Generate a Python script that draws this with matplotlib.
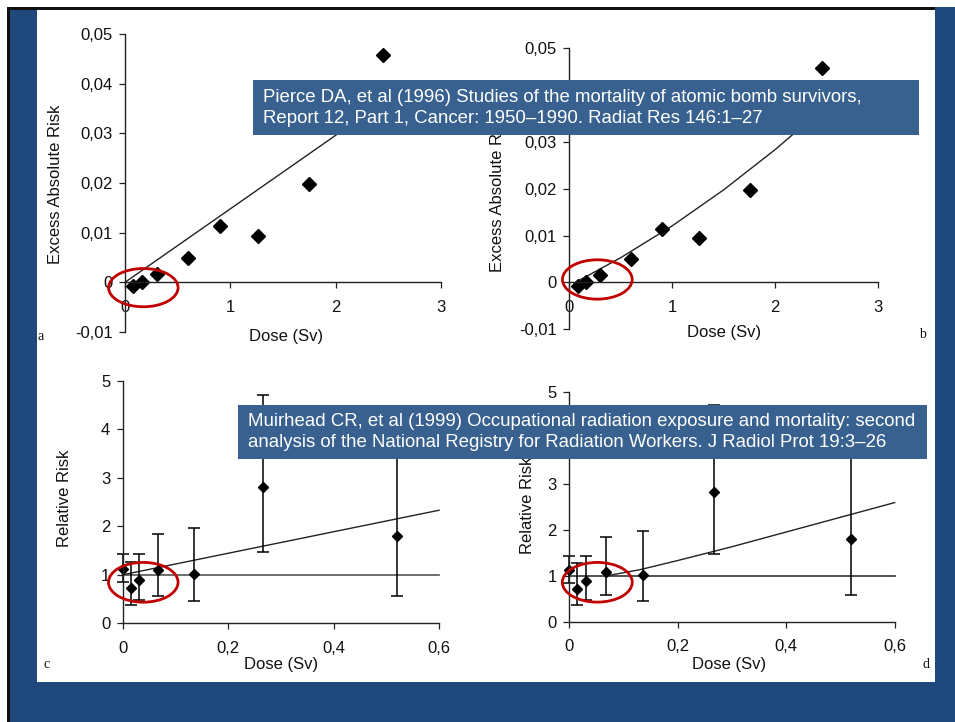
# Dose-response slide: atomic bomb survivors (a, b) and radiation workers (c, d)
import numpy as np
import matplotlib
matplotlib.use("Agg")
import matplotlib.pyplot as plt
from matplotlib.patches import Rectangle, Ellipse

plt.rcParams['font.family'] = ['Liberation Sans', 'DejaVu Sans']

W, H = 955, 722

# --- data ---
# panels a / b : excess absolute risk vs dose
lss_dose = [0.08, 0.16, 0.30, 0.60, 0.90, 1.26, 1.75, 2.45]
lss_ear = [-0.0007, 0.0000, 0.0016, 0.0050, 0.0114, 0.0094, 0.0198, 0.0457]
fit_a_dose = [0.0, 2.5]
fit_a_ear = [0.0, 0.037]
fit_b_dose = [0.05, 0.5, 1.0, 1.5, 2.0, 2.5]
fit_b_ear = [-0.0001, 0.0053, 0.0121, 0.0198, 0.0284, 0.0378]
ear_ticks = [-0.01, 0, 0.01, 0.02, 0.03, 0.04, 0.05]
ear_labels = ['-0,01', '0', '0,01', '0,02', '0,03', '0,04', '0,05']
sv_ticks = [0, 1, 2, 3]

# panels c / d : relative risk vs dose
nrrw_dose = [0.0, 0.015, 0.03, 0.067, 0.135, 0.266, 0.52]
nrrw_rr = [1.12, 0.72, 0.89, 1.09, 1.02, 2.81, 1.79]
nrrw_lo = [0.85, 0.37, 0.48, 0.57, 0.45, 1.47, 0.57]
nrrw_hi = [1.42, 1.27, 1.43, 1.85, 1.97, 4.71, 4.40]
fit_c_dose = [0.0, 0.6]
fit_c_rr = [1.0, 2.33]
fit_d_dose = [0.07, 0.13, 0.2, 0.3, 0.4, 0.5, 0.6]
fit_d_rr = [1.0, 1.13, 1.33, 1.63, 1.95, 2.27, 2.59]
rr_ticks = [0, 1, 2, 3, 4, 5]
dose_ticks = [0, 0.2, 0.4, 0.6]
dose_labels = ['0', '0,2', '0,4', '0,6']

ref1 = ("Pierce DA, et al (1996) Studies of the mortality of atomic bomb survivors,\n"
        "Report 12, Part 1, Cancer: 1950\u20131990. Radiat Res 146:1\u201327")
ref2 = ("Muirhead CR, et al (1999) Occupational radiation exposure and mortality: second\n"
        "analysis of the National Registry for Radiation Workers. J Radiol Prot 19:3\u201326")

navy = '#1f497d'
boxblue = '#386190'
red = '#c00000'

fig = plt.figure(figsize=(W / 100, H / 100), dpi=100)
fig.patch.set_facecolor('white')


def fx(x):
    return x / W


def fy(y):
    return 1 - y / H


def rect(x0, y0, x1, y1, color, z=0):
    fig.patches.append(Rectangle((fx(x0), fy(y1)), (x1 - x0) / W, (y1 - y0) / H,
                                 transform=fig.transFigure, facecolor=color,
                                 edgecolor='none', zorder=z))


def ftext(x, y, s, **kw):
    fig.text(fx(x), fy(y), s, **kw)


def make_axes(x0, x1, ytop, ybot):
    ax = fig.add_axes([fx(x0), fy(ybot), (x1 - x0) / W, (ybot - ytop) / H])
    ax.set_facecolor('none')
    for s in ['top', 'right']:
        ax.spines[s].set_visible(False)
    for s in ['left', 'bottom']:
        ax.spines[s].set_color('#222222')
        ax.spines[s].set_linewidth(1.0)
    ax.tick_params(direction='out', length=4, width=0.9, color='#222222',
                   labelsize=12, labelcolor='#111111')
    ax.tick_params(axis='y', pad=5)
    return ax


# slide frame
rect(9, 7, 37, 722, navy)
rect(9, 682, 955, 722, navy)
rect(935, 7, 955, 722, navy)
rect(7, 7, 10, 722, '#111111')
rect(7, 7, 935, 9.5, '#111111')


def lss_panel(ax, fit_dose, fit_ear, ell):
    ax.set_xlim(0, 3)
    ax.set_ylim(-0.01, 0.05)
    ax.spines['bottom'].set_position(('data', 0))
    ax.spines['bottom'].set_bounds(0, 3)
    ax.set_xticks(sv_ticks)
    ax.set_xticklabels([str(t) for t in sv_ticks])
    ax.tick_params(axis='x', pad=8.5)
    ax.set_yticks(ear_ticks)
    ax.set_yticklabels(ear_labels)
    ax.plot(fit_dose, fit_ear, color='#222222', lw=1.0, clip_on=False)
    ax.plot(lss_dose, lss_ear, 'D', color='black', ms=7.2, clip_on=False)
    ax.add_patch(Ellipse(ell[:2], ell[2], ell[3], fill=False, edgecolor=red,
                         lw=2, clip_on=False, zorder=5))


def nrrw_panel(ax, fit_dose, fit_rr, ell, refcolor):
    ax.set_xlim(0, 0.6)
    ax.set_ylim(0, 5)
    ax.set_xticks(dose_ticks)
    ax.set_xticklabels(dose_labels)
    ax.tick_params(axis='x', pad=8.5)
    ax.set_yticks(rr_ticks)
    ax.plot([0, 0.6], [1, 1], color=refcolor, lw=1.2, clip_on=False)
    ax.plot(fit_dose, fit_rr, color='#222222', lw=1.0, clip_on=False)
    rr = np.array(nrrw_rr)
    yerr = [rr - np.array(nrrw_lo), np.array(nrrw_hi) - rr]
    ax.errorbar(nrrw_dose, nrrw_rr, yerr=yerr, fmt='D', color='black', ms=5.5,
                elinewidth=1.1, capsize=4.3, capthick=1.1, clip_on=False)
    ax.add_patch(Ellipse(ell[:2], ell[2], ell[3], fill=False, edgecolor=red,
                         lw=2, clip_on=False, zorder=5))


ax_a = make_axes(125, 441, 34, 332)
lss_panel(ax_a, fit_a_dose, fit_a_ear, (0.174, -0.00107, 0.66, 0.0077))
ax_b = make_axes(569.3, 878.3, 48.3, 329.3)
lss_panel(ax_b, fit_b_dose, fit_b_ear, (0.272, 0.00064, 0.677, 0.0084))
ax_c = make_axes(122.7, 439, 380.7, 623.3)
nrrw_panel(ax_c, fit_c_dose, fit_c_rr, (0.039, 0.845, 0.132, 0.82), '#555555')
ax_d = make_axes(569.3, 894.7, 391.7, 621.7)
nrrw_panel(ax_d, fit_d_dose, fit_d_rr, (0.0516, 0.857, 0.129, 0.863), '#333333')

# axis titles
lab = dict(fontsize=12, color='#111111', ha='center', va='center')
ftext(55, 184, 'Excess Absolute Risk', rotation=90, **lab)
ftext(498, 192, 'Excess Absolute Risk', rotation=90, **lab)
ftext(286, 337, 'Dose (Sv)', **lab)
ftext(724, 333, 'Dose (Sv)', **lab)
ftext(64, 498, 'Relative Risk', rotation=90, **lab)
ftext(528, 505, 'Relative Risk', rotation=90, **lab)
ftext(281, 664, 'Dose (Sv)', **lab)
ftext(729, 665, 'Dose (Sv)', **lab)

# panel letters
pl = dict(fontsize=10, family='Liberation Serif', color='#111111', ha='center', va='center')
ftext(41, 336, 'a', **pl)
ftext(922, 335, 'b', **pl)
ftext(47, 665, 'c', **pl)
ftext(926, 665, 'd', **pl)

# reference boxes
rect(253, 80, 919, 135, boxblue, z=10)
ftext(263, 108, ref1, fontsize=13.4, color='white', ha='left', va='center',
      linespacing=1.3, zorder=11)
rect(238, 405, 927, 459, boxblue, z=10)
ftext(248, 432, ref2, fontsize=13.4, color='white', ha='left', va='center',
      linespacing=1.3, zorder=11)

fig.savefig('out.png', dpi=100)
